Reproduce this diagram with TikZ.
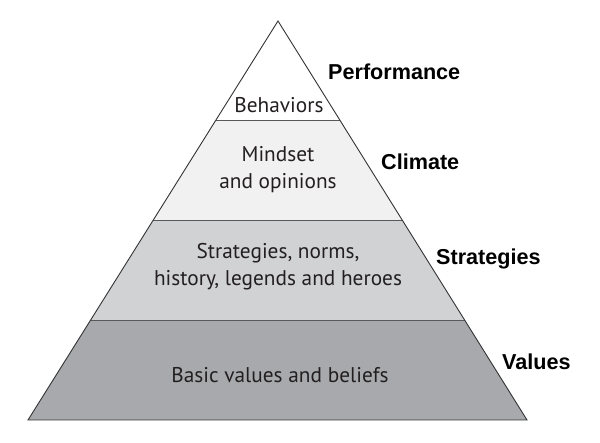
\documentclass[tikz,border=0pt]{standalone}
\usepackage{fontspec}
\setmainfont{PT Sans}
\newfontfamily\labfont{Liberation Sans}
\usetikzlibrary{calc}
\definecolor{edge}{HTML}{333333}
\definecolor{sep}{HTML}{58595B}
\definecolor{layerA}{HTML}{FFFFFF}
\definecolor{layerB}{HTML}{F1F1F2}
\definecolor{layerC}{HTML}{D1D2D4}
\definecolor{layerD}{HTML}{A7A9AC}
\definecolor{ink}{HTML}{231F20}
\tikzset{
  layertext/.style={align=center, text=ink, font=\fontsize{21.3}{27}\selectfont, inner sep=0pt},
  sidelabel/.style={anchor=west, text=black, font=\labfont\bfseries\fontsize{21.6}{24}\selectfont, inner sep=0pt},
  sepline/.style={draw=sep, line width=0.9pt},
  outline/.style={draw=edge, line width=0.9pt, line join=miter}
}
\begin{document}
\begin{tikzpicture}[x=1pt,y=-1pt]
\useasboundingbox (0,0) rectangle (600,443);
\coordinate (A) at (278,21);
\coordinate (BL) at (28,420);
\coordinate (BR) at (527,420);
\coordinate (L1) at ($(A)!0.25!(BL)$);
\coordinate (R1) at ($(A)!0.25!(BR)$);
\coordinate (L2) at ($(A)!0.5!(BL)$);
\coordinate (R2) at ($(A)!0.5!(BR)$);
\coordinate (L3) at ($(A)!0.75!(BL)$);
\coordinate (R3) at ($(A)!0.75!(BR)$);
\fill[layerA] (A) -- (R1) -- (L1) -- cycle;
\fill[layerB] (L1) -- (R1) -- (R2) -- (L2) -- cycle;
\fill[layerC] (L2) -- (R2) -- (R3) -- (L3) -- cycle;
\fill[layerD] (L3) -- (R3) -- (BR) -- (BL) -- cycle;
\draw[sepline] (L1) -- (R1);
\draw[sepline] (L2) -- (R2);
\draw[sepline] (L3) -- (R3);
\draw[outline] (A) -- (BR) -- (BL) -- cycle;
\node[layertext] (t1) at (279,105) {Behaviors};
\node[layertext] (t2) at (278,170) {Mindset\\and opinions};
\node[layertext] (t3) at (278,267) {Strategies, norms,\\history, legends and heroes};
\node[layertext] (t4) at (280,375) {Basic values and beliefs};
\node[sidelabel] (s1) at (328,72) {Performance};
\node[sidelabel] (s2) at (381,162) {Climate};
\node[sidelabel] (s3) at (436,259) {Strategies};
\node[sidelabel] (s4) at (502,362) {Values};
\end{tikzpicture}
\end{document}
